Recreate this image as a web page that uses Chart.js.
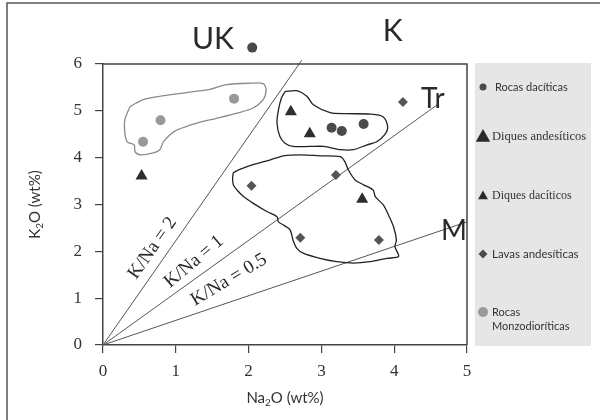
<!DOCTYPE html>
<html>
<head>
<meta charset="utf-8">
<script src="https://cdn.jsdelivr.net/npm/chart.js@4.4.0/dist/chart.umd.min.js"></script>
<style>
  html, body { margin: 0; padding: 0; background: #fff; }
  canvas { display: block; }
</style>
</head>
<body>
<canvas id="chart" width="600" height="420"></canvas>
<script>
/* ---- data (Na2O, K2O in wt%) ---- */
var xTicks = [0, 1, 2, 3, 4, 5];
var yTicks = [0, 1, 2, 3, 4, 5, 6];

var rocasDaciticas = [[3.14, 4.64], [3.28, 4.57], [3.58, 4.72], [2.05, 6.35]];
var diquesAndesiticos = [[0.53, 3.61], [3.56, 3.11]];
var diquesDaciticos = [[2.58, 4.98], [2.84, 4.51]];
var lavasAndesiticas = [[2.04, 3.40], [3.20, 3.63], [2.71, 2.29], [3.79, 2.24], [4.12, 5.19]];
var rocasMonzo = [[0.55, 4.34], [0.79, 4.80], [1.80, 5.26]];

// K/Na reference lines, from the origin to where they stop
var lineKNa2 = [[0, 0], [2.73, 6.08]];
var lineKNa1 = [[0, 0], [4.61, 5.15]];
var lineKNa05 = [[0, 0], [5.0, 2.63]];

// outlined fields
var fieldUpper = [[2.50, 5.41], [2.66, 5.43], [2.80, 5.31], [2.89, 5.13], [3.12, 4.96], [3.35, 4.94],
  [3.67, 4.93], [3.85, 4.87], [3.91, 4.66], [3.87, 4.49], [3.76, 4.34], [3.62, 4.27], [3.44, 4.17],
  [3.26, 4.17], [3.03, 4.24], [2.84, 4.24], [2.61, 4.24], [2.50, 4.31], [2.43, 4.45], [2.39, 4.74],
  [2.41, 5.02], [2.45, 5.27], [2.50, 5.41]];
var fieldLower = [[1.79, 3.68], [1.88, 3.75], [2.06, 3.85], [2.29, 3.95], [2.48, 4.04], [2.71, 4.06],
  [2.98, 4.04], [3.26, 4.02], [3.32, 3.92], [3.37, 3.74], [3.46, 3.53], [3.58, 3.42], [3.71, 3.31],
  [3.74, 3.17], [3.85, 2.99], [3.92, 2.78], [3.99, 2.53], [4.03, 2.24], [4.01, 2.10], [4.06, 1.89],
  [3.90, 1.85], [3.67, 1.78], [3.44, 1.75], [3.21, 1.78], [2.98, 1.85], [2.75, 1.96], [2.66, 2.07],
  [2.61, 2.24], [2.57, 2.46], [2.48, 2.56], [2.41, 2.63], [2.39, 2.74], [2.25, 2.85], [2.06, 3.03],
  [1.93, 3.17], [1.84, 3.31], [1.79, 3.42], [1.78, 3.56], [1.79, 3.68]];
var fieldMonzo = [[0.37, 5.09], [0.55, 5.24], [0.78, 5.31], [1.01, 5.36], [1.24, 5.41], [1.47, 5.46],
  [1.70, 5.56], [2.02, 5.59], [2.20, 5.58], [2.24, 5.45], [2.20, 5.24], [2.06, 5.06], [1.84, 4.95],
  [1.56, 4.84], [1.29, 4.74], [1.01, 4.59], [0.92, 4.49], [0.83, 4.34], [0.78, 4.17], [0.69, 4.10],
  [0.51, 4.06], [0.44, 4.13], [0.43, 4.27], [0.37, 4.31], [0.33, 4.34], [0.30, 4.52], [0.30, 4.81],
  [0.37, 5.09]];

function pts(a) {
  return a.map(function (p) { return { x: p[0], y: p[1] }; });
}

/* ---- text placed on the diagram ---- */
var notes = [
  { text: 'UK', x: 1.51, y: 6.52, font: '30px Lato', rot: 0 },
  { text: 'K', x: 3.98, y: 6.69, font: '30px Lato', rot: 0 },
  { text: 'Tr', x: 4.53, y: 5.26, font: '28px Lato', rot: 0 },
  { text: 'M', x: 4.82, y: 2.44, font: '28px Lato', rot: 0 },
  { text: 'K/Na = 2', x: 0.68, y: 2.07, font: '19px "Liberation Serif"', rot: -55 },
  { text: 'K/Na = 1', x: 1.25, y: 1.78, font: '19px "Liberation Serif"', rot: -40 },
  { text: 'K/Na = 0.5', x: 1.73, y: 1.39, font: '19px "Liberation Serif"', rot: -31 }
];

var legendItems = [
  { label: ['Rocas dacíticas'], style: 'circle', r: 3.5, color: '#4a4a4a', font: '11px Lato', y: 87 },
  { label: ['Diques andesíticos'], style: 'triangle', r: 8, color: '#2a2a2a', font: '12.5px "Liberation Serif"', y: 137 },
  { label: ['Diques dacíticos'], style: 'triangle', r: 5.5, color: '#2a2a2a', font: '12px "Liberation Serif"', y: 196 },
  { label: ['Lavas andesíticas'], style: 'rectRot', r: 4.5, color: '#4a4a4a', font: '11.5px Lato', y: 254 },
  { label: ['Rocas', 'Monzodioríticas'], style: 'circle', r: 5, color: '#999', font: '11px Lato', y: 312 }
];

function drawMark(ctx, style, r, x, y, color) {
  ctx.save();
  ctx.fillStyle = color;
  ctx.beginPath();
  if (style === 'circle') {
    ctx.arc(x, y, r, 0, Math.PI * 2);
  } else if (style === 'triangle') {
    ctx.moveTo(x, y - r);
    ctx.lineTo(x + r * 0.9, y + r * 0.6);
    ctx.lineTo(x - r * 0.9, y + r * 0.6);
    ctx.closePath();
  } else {
    ctx.moveTo(x, y - r);
    ctx.lineTo(x + r, y);
    ctx.lineTo(x, y + r);
    ctx.lineTo(x - r, y);
    ctx.closePath();
  }
  ctx.fill();
  ctx.restore();
}

// text with a lowered small "2"
function drawSubText(ctx, parts, cx, cy, size) {
  var big = size + 'px Lato', small = Math.round(size * 0.65) + 'px Lato';
  var w = 0;
  parts.forEach(function (p) { ctx.font = p.sub ? small : big; w += ctx.measureText(p.t).width; });
  var x = cx - w / 2;
  ctx.textAlign = 'left';
  ctx.textBaseline = 'middle';
  parts.forEach(function (p) {
    ctx.font = p.sub ? small : big;
    ctx.fillText(p.t, x, p.sub ? cy + size * 0.35 : cy);
    x += ctx.measureText(p.t).width;
  });
}

var decor = {
  id: 'decor',
  beforeDraw: function (chart) {
    var ctx = chart.ctx;
    ctx.save();
    // outer frame (top and left edges visible)
    ctx.strokeStyle = '#555';
    ctx.lineWidth = 1.5;
    ctx.beginPath();
    ctx.moveTo(7, 420);
    ctx.lineTo(7, 3);
    ctx.lineTo(600, 3);
    ctx.stroke();
    // legend panel
    ctx.fillStyle = '#e6e6e6';
    ctx.fillRect(475, 63, 116, 283);
    ctx.restore();
  },
  afterDatasetsDraw: function (chart) {
    // Chart.js skips points outside the plot box; the UK sample sits above it
    var a = chart.chartArea;
    chart.data.datasets.forEach(function (ds, i) {
      if (!ds.outside) return;
      chart.getDatasetMeta(i).data.forEach(function (el) {
        if (el.y < a.top - 1) drawMark(chart.ctx, 'circle', ds.pointRadius, el.x, el.y, ds.backgroundColor);
      });
    });
  },
  afterDraw: function (chart) {
    var ctx = chart.ctx, a = chart.chartArea;
    var sx = chart.scales.x, sy = chart.scales.y;
    ctx.save();
    // top and right edges of the plot box
    ctx.strokeStyle = '#444';
    ctx.lineWidth = 1.5;
    ctx.beginPath();
    ctx.moveTo(a.left, a.top);
    ctx.lineTo(a.right, a.top);
    ctx.lineTo(a.right, a.bottom);
    ctx.stroke();

    // axis titles
    ctx.fillStyle = '#333';
    drawSubText(ctx, [{ t: 'Na' }, { t: '2', sub: true }, { t: 'O (wt%)' }], (a.left + a.right) / 2, 398, 15);
    ctx.save();
    ctx.translate(35, (a.top + a.bottom) / 2);
    ctx.rotate(-Math.PI / 2);
    drawSubText(ctx, [{ t: 'K' }, { t: '2', sub: true }, { t: 'O (wt%)' }], 0, 0, 15);
    ctx.restore();

    // labels on the diagram
    ctx.fillStyle = '#2a2a2a';
    notes.forEach(function (n) {
      ctx.save();
      ctx.translate(sx.getPixelForValue(n.x), sy.getPixelForValue(n.y));
      ctx.rotate(n.rot * Math.PI / 180);
      ctx.font = n.font;
      ctx.textAlign = 'center';
      ctx.textBaseline = 'middle';
      ctx.fillText(n.text, 0, 0);
      ctx.restore();
    });

    // legend
    legendItems.forEach(function (it) {
      drawMark(ctx, it.style, it.r, 483, it.y, it.color);
      ctx.fillStyle = '#333';
      ctx.font = it.font;
      ctx.textAlign = 'left';
      ctx.textBaseline = 'middle';
      it.label.forEach(function (line, i) {
        ctx.fillText(line, it.style === 'circle' && it.r < 4 ? 495 : 492, it.y + i * 14.5);
      });
    });
    ctx.restore();
  }
};

function markSet(label, data, style, r, color, outside) {
  return {
    label: label,
    data: pts(data),
    pointStyle: style,
    pointRadius: r,
    backgroundColor: color,
    borderColor: color,
    borderWidth: 0,
    outside: !!outside
  };
}

function lineSet(data, color, width, tension) {
  return {
    data: pts(data),
    showLine: true,
    pointRadius: 0,
    borderColor: color,
    borderWidth: width,
    tension: tension,
    fill: false,
    clip: false
  };
}

var axisGrid = {
  display: true,
  drawOnChartArea: false,
  drawTicks: true,
  tickLength: 8,
  color: '#444',
  lineWidth: 1.2
};

var ctx = document.getElementById('chart').getContext('2d');
window.diagram = new Chart(ctx, {
  type: 'scatter',
  data: {
    datasets: [
      markSet('Rocas dacíticas', rocasDaciticas, 'circle', 5, '#4a4a4a', true),
      markSet('Diques andesíticos', diquesAndesiticos, 'triangle', 7, '#2e2e2e'),
      markSet('Diques dacíticos', diquesDaciticos, 'triangle', 7, '#2e2e2e'),
      markSet('Lavas andesíticas', lavasAndesiticas, 'rectRot', 5, '#555'),
      markSet('Rocas Monzodioríticas', rocasMonzo, 'circle', 5, '#999'),
      lineSet(fieldUpper, '#222', 1.3, 0.3),
      lineSet(fieldLower, '#222', 1.3, 0.3),
      lineSet(fieldMonzo, '#8a8a8a', 1.3, 0.3),
      lineSet(lineKNa2, '#555', 1, 0),
      lineSet(lineKNa1, '#555', 1, 0),
      lineSet(lineKNa05, '#555', 1, 0)
    ]
  },
  options: {
    responsive: false,
    devicePixelRatio: 1,
    animation: false,
    events: [],
    layout: { padding: { left: 0, top: 64, right: 133, bottom: 0 } },
    plugins: {
      legend: { display: false },
      tooltip: { enabled: false }
    },
    scales: {
      x: {
        type: 'linear',
        min: 0,
        max: 5,
        afterBuildTicks: function (s) { s.ticks = xTicks.map(function (v) { return { value: v }; }); },
        afterFit: function (s) { s.height = 75; },
        grid: axisGrid,
        border: { display: true, color: '#444', width: 1.5 },
        ticks: { color: '#333', padding: 8, font: { family: 'Liberation Serif', size: 17 } }
      },
      y: {
        type: 'linear',
        min: 0,
        max: 6,
        afterBuildTicks: function (s) { s.ticks = yTicks.map(function (v) { return { value: v }; }); },
        afterFit: function (s) { s.width = 103; },
        grid: axisGrid,
        border: { display: true, color: '#444', width: 1.5 },
        ticks: { color: '#333', padding: 13, font: { family: 'Liberation Serif', size: 17 } }
      }
    }
  },
  plugins: [decor]
});
</script>
</body>
</html>
